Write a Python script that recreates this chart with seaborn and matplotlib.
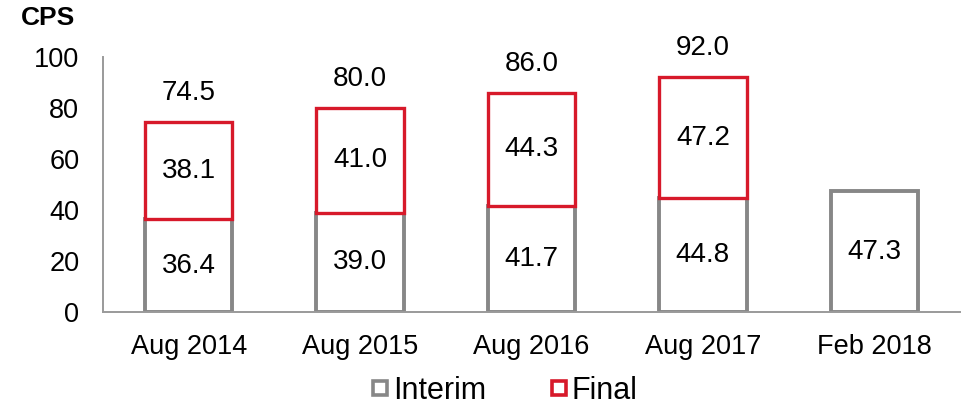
import matplotlib
matplotlib.use("Agg")
import matplotlib.pyplot as plt
from matplotlib.lines import Line2D
import seaborn as sns
import pandas as pd

# Dividend per share (cents) by payment period
periods = ["Aug 2014", "Aug 2015", "Aug 2016", "Aug 2017", "Feb 2018"]
interim = [36.4, 39.0, 41.7, 44.8, 47.3]
final = [38.1, 41.0, 44.3, 47.2, None]
totals = [74.5, 80.0, 86.0, 92.0, None]

GREY = "#878787"
RED = "#D7192A"
AXIS = "#9A9A9A"

sns.set_theme(style="white")
plt.rcParams["font.family"] = ["Liberation Sans", "DejaVu Sans"]
plt.rcParams["text.color"] = "black"

df = pd.DataFrame({"period": periods, "interim": interim,
                   "final": [f if f is not None else 0 for f in final]})

fig = plt.figure(figsize=(9.74, 4.08), dpi=100)
ax = fig.add_axes([0.1057, 0.2353, 0.8799, 0.625])

sns.barplot(data=df, x="period", y="interim", ax=ax, color="white",
            edgecolor=GREY, linewidth=2.8, width=0.51, saturation=1)
fin_df = df[df["final"] > 0]
sns.barplot(data=fin_df, x="period", y="final", ax=ax, color="white",
            edgecolor=RED, linewidth=2.4, width=0.51, saturation=1,
            bottom=fin_df["interim"].values, order=periods)

tick_fs = 19.5
val_fs = 20
for i, p in enumerate(periods):
    ax.text(i, interim[i] / 2, f"{interim[i]:.1f}", ha="center", va="center",
            fontsize=val_fs, color="black")
    if final[i] is not None:
        ax.text(i, interim[i] + final[i] / 2, f"{final[i]:.1f}", ha="center",
                va="center", fontsize=val_fs, color="black")
        ax.annotate(f"{totals[i]:.1f}", (i, totals[i]), xytext=(0, 21),
                    textcoords="offset points", ha="center", va="center",
                    fontsize=val_fs, color="black")

ax.set_ylim(0, 100)
ax.set_xlim(-0.5, len(periods) - 0.5)
ax.set_yticks(range(0, 101, 20))
ax.set_xlabel("")
ax.set_ylabel("")
ax.tick_params(axis="both", length=0, labelsize=tick_fs, colors="black")
ax.tick_params(axis="x", pad=16)
ax.tick_params(axis="y", pad=17)
for side in ("top", "right"):
    ax.spines[side].set_visible(False)
for side in ("left", "bottom"):
    ax.spines[side].set_color(AXIS)
    ax.spines[side].set_linewidth(1.4)

fig.text(0.021, 0.955, "CPS", fontsize=19, fontweight="bold", ha="left",
         va="center", color="black")

handles = [
    Line2D([], [], linestyle="none", marker="s", markersize=9.5,
           markerfacecolor="white", markeredgecolor=GREY, markeredgewidth=2.6),
    Line2D([], [], linestyle="none", marker="s", markersize=9.5,
           markerfacecolor="white", markeredgecolor=RED, markeredgewidth=2.6),
]
leg = fig.legend(handles, ["Interim", "Final"], loc="center",
                 bbox_to_anchor=(0.518, 0.042), ncol=2, frameon=False,
                 fontsize=22, handlelength=0.55, handletextpad=0.15,
                 columnspacing=2.1)
for t in leg.get_texts():
    t.set_color("black")

fig.savefig("out.png", dpi=100, facecolor="white")
